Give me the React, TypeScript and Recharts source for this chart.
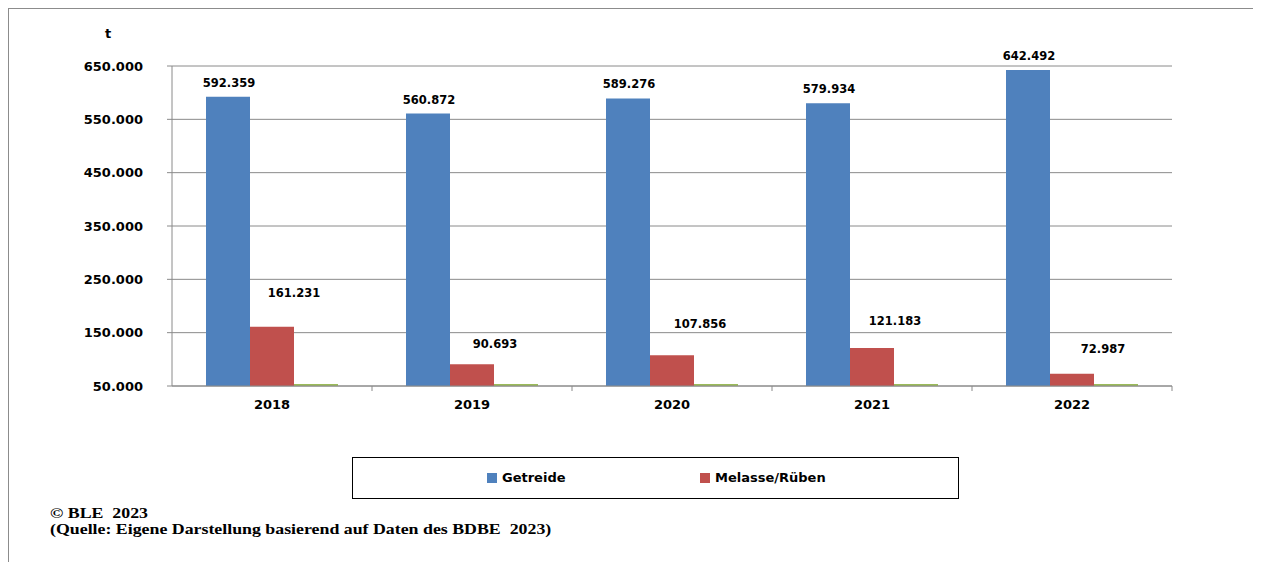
import React from 'react';
import { BarChart, Bar, XAxis, YAxis, CartesianGrid, LabelList } from 'recharts';

if (typeof document !== 'undefined') {
  document.documentElement.style.overflow = 'hidden';
  document.body.style.overflow = 'hidden';
}

const years = ['2018', '2019', '2020', '2021', '2022'];
const getreide = [592359, 560872, 589276, 579934, 642492];
const melasse = [161231, 90693, 107856, 121183, 72987];
const sonstige = [3000, 3000, 3000, 3000, 3000];
const yTicks = [50000, 150000, 250000, 350000, 450000, 550000, 650000];

const seriesNames = { getreide: 'Getreide', melasse: 'Melasse/Rüben', sonstige: 'Sonstige' };
const colors = { getreide: '#4F81BD', melasse: '#C0504D', sonstige: '#9BBB59' };

const data = years.map((y, i) => ({
  year: y,
  getreide: getreide[i],
  melasse: melasse[i],
  sonstige: sonstige[i],
}));

// layout / style constants
const CHART_W = 1240;
const CHART_H = 420;
const MARGIN = { top: 57, right: 77, left: 103, bottom: 13 };
const Y_AXIS_W = 60;
const X_AXIS_H = 30;
const PLOT_W = CHART_W - MARGIN.left - MARGIN.right - Y_AXIS_W;
const PLOT_BOTTOM = CHART_H - MARGIN.bottom - X_AXIS_H;
const BAND = PLOT_W / years.length;
const X_TICK_SIZE = 5;
const X_TICK_MARGIN = 9;
const FONT = '"DejaVu Sans", Verdana, sans-serif';
const GRID = '#8a8a8a';

// manual label offsets (relative to bar top-centre) for the red series
const redLabelOffsets = [
  { dx: 22, dy: -34 },
  { dx: 23, dy: -20 },
  { dx: 28, dy: -31 },
  { dx: 23, dy: -27 },
  { dx: 31, dy: -25 },
];

const fmt = (v: number) => String(v).replace(/\B(?=(\d{3})+(?!\d))/g, '.');

const XTick = (props: any) => {
  const { x, y, payload } = props;
  const axisY = y - X_TICK_SIZE - X_TICK_MARGIN;
  return (
    <g>
      <line x1={x + BAND / 2} x2={x + BAND / 2} y1={axisY} y2={axisY + X_TICK_SIZE} stroke={GRID} strokeWidth={1} />
      <text x={x} y={y} dy="0.71em" textAnchor="middle" fontFamily={FONT} fontWeight="bold" fontSize={13} fill="#000">
        {payload.value}
      </text>
    </g>
  );
};

const blueLabel = (p: any) => {
  const { x, y, width, value } = p;
  return (
    <text x={x + width / 2 + 1} y={y - 14} textAnchor="middle" dominantBaseline="central" fontFamily={FONT} fontWeight="bold" fontSize={11.5} fill="#000">
      {fmt(value)}
    </text>
  );
};

const redLabel = (p: any) => {
  const { x, y, width, value, index } = p;
  const o = redLabelOffsets[index] || { dx: 0, dy: -14 };
  return (
    <text x={x + width / 2 + o.dx} y={y + o.dy} textAnchor="middle" dominantBaseline="central" fontFamily={FONT} fontWeight="bold" fontSize={11.5} fill="#000">
      {fmt(value)}
    </text>
  );
};

// values below the axis minimum: drawn as a thin stub on the base line
const StubShape = (p: any) => {
  const { x, width, fill } = p;
  return <rect x={x} y={PLOT_BOTTOM - 2} width={width} height={2} fill={fill} />;
};

export default function App() {
  return (
    <div
      style={{
        position: 'relative',
        width: 1249,
        height: 560,
        border: '1px solid #8c8c8c',
        background: '#fff',
      }}
    >
      <div
        style={{
          position: 'absolute',
          left: 94,
          top: 17,
          width: 10,
          textAlign: 'center',
          lineHeight: '16px',
          fontFamily: FONT,
          fontWeight: 'bold',
          fontSize: 13,
        }}
      >
        t
      </div>
      <div style={{ position: 'absolute', left: 0, top: 0 }}>
        <BarChart width={CHART_W} height={CHART_H} data={data} margin={MARGIN} barCategoryGap="17%" barGap={0}>
          <CartesianGrid vertical={false} stroke={GRID} strokeWidth={1} />
          <XAxis
            dataKey="year"
            height={X_AXIS_H}
            stroke={GRID}
            tickLine={false}
            tickSize={X_TICK_SIZE}
            tickMargin={X_TICK_MARGIN}
            tick={<XTick />}
            interval={0}
          />
          <YAxis
            width={Y_AXIS_W}
            domain={[50000, 650000]}
            ticks={yTicks}
            allowDataOverflow
            stroke={GRID}
            tickSize={5}
            tickMargin={24}
            tickFormatter={fmt}
            tick={{ fill: '#000', fontFamily: FONT, fontWeight: 'bold', fontSize: 13 }}
          />
          <Bar dataKey="getreide" name={seriesNames.getreide} fill={colors.getreide} isAnimationActive={false}>
            <LabelList dataKey="getreide" content={blueLabel} />
          </Bar>
          <Bar dataKey="melasse" name={seriesNames.melasse} fill={colors.melasse} isAnimationActive={false}>
            <LabelList dataKey="melasse" content={redLabel} />
          </Bar>
          <Bar
            dataKey="sonstige"
            name={seriesNames.sonstige}
            fill={colors.sonstige}
            legendType="none"
            shape={<StubShape />}
            isAnimationActive={false}
          />
        </BarChart>
      </div>
      <div
        style={{
          position: 'absolute',
          left: 343,
          top: 448,
          width: 607,
          height: 42,
          boxSizing: 'border-box',
          border: '1px solid #000',
          fontFamily: FONT,
          fontWeight: 'bold',
          fontSize: 13,
        }}
      >
        <div style={{ position: 'absolute', left: 134, top: 15, width: 10, height: 10, background: colors.getreide }} />
        <div style={{ position: 'absolute', left: 149, top: 12, lineHeight: '16px', whiteSpace: 'nowrap' }}>{seriesNames.getreide}</div>
        <div style={{ position: 'absolute', left: 347, top: 15, width: 10, height: 10, background: colors.melasse }} />
        <div style={{ position: 'absolute', left: 362, top: 12, lineHeight: '16px', whiteSpace: 'nowrap' }}>{seriesNames.melasse}</div>
      </div>
      <div
        style={{
          position: 'absolute',
          left: 41,
          top: 496,
          fontFamily: '"Liberation Serif", "Times New Roman", serif',
          fontWeight: 'bold',
          fontSize: 15.5,
          lineHeight: '16px',
          whiteSpace: 'pre',
          color: '#000',
          transform: 'scaleX(1.15)',
          transformOrigin: 'left top',
        }}
      >
        {'© BLE  2023\n(Quelle: Eigene Darstellung basierend auf Daten des BDBE  2023)'}
      </div>
    </div>
  );
}
